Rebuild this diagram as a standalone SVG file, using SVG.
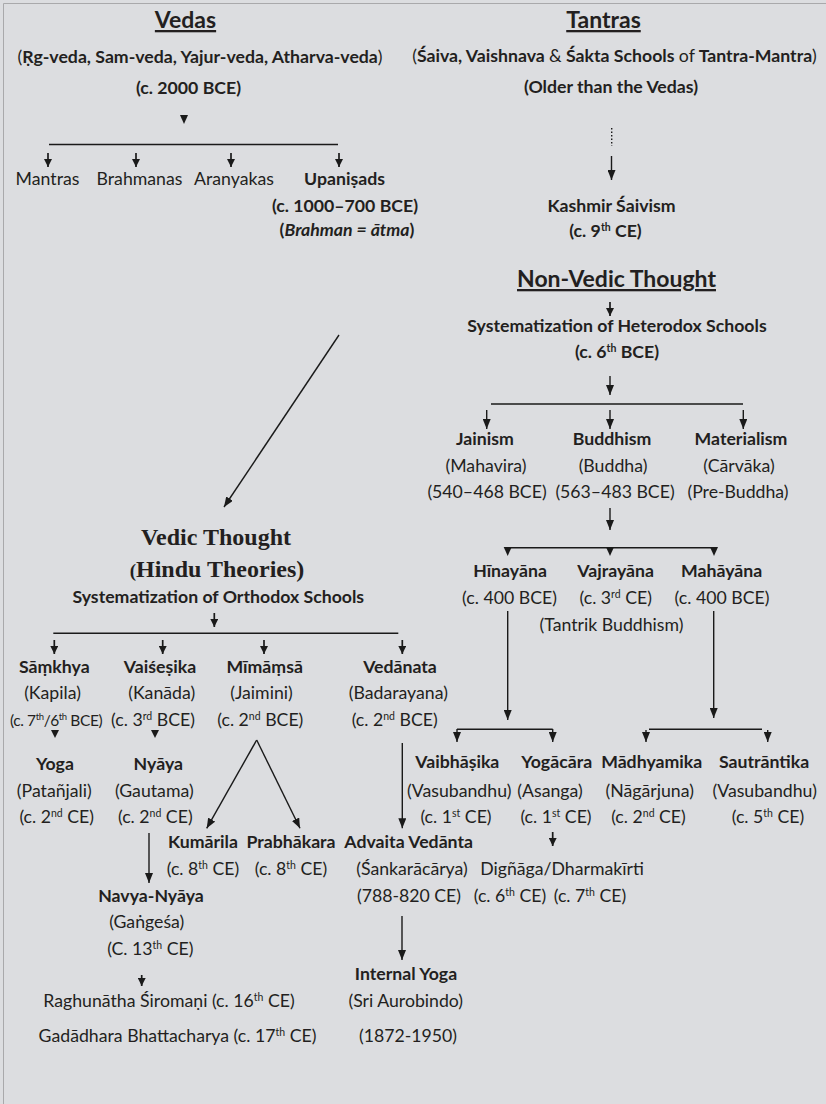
<svg xmlns="http://www.w3.org/2000/svg" width="826" height="1104" viewBox="0 0 826 1104">
<style>
.t{font-family:Lato,"Noto Sans","Liberation Sans",sans-serif;font-size:17.7px;fill:#231f20;text-anchor:middle}
.b{font-weight:bold}
.h{font-size:23px;font-weight:bold;text-decoration:underline}
.s{font-family:"Liberation Serif","Times New Roman",serif;font-size:24px;font-weight:bold;fill:#231f20;text-anchor:middle}
.n{font-weight:normal}
.i{font-style:italic}
.sup{font-size:10.5px}
.c line,.c path{stroke:#1a1a1a;stroke-width:1.4;fill:none}
.c polygon{fill:#1a1a1a}
.la{marker-end:url(#a)}
.sa{marker-end:url(#sa)}
.sa2{stroke-width:1.7 !important}
</style>
<defs>
<marker id="a" viewBox="0 0 10 8" refX="10" refY="4" markerWidth="10" markerHeight="8" markerUnits="userSpaceOnUse" orient="auto"><path d="M0,0 L10,4 L0,8 z" fill="#1a1a1a"/></marker>
<marker id="sa" viewBox="0 0 8 8" refX="8" refY="4" markerWidth="8" markerHeight="8" markerUnits="userSpaceOnUse" orient="auto"><path d="M0,0 L8,4 L0,8 z" fill="#1a1a1a"/></marker>
</defs>
<rect x="0" y="0" width="826" height="1104" fill="#dcdde0"/>
<line x1="3.5" y1="3.5" x2="3.5" y2="1104" stroke="#a9a9ab" stroke-width="1"/>
<line x1="3.5" y1="3.5" x2="826" y2="3.5" stroke="#a9a9ab" stroke-width="1"/>

<g id="vedas">
<text class="t h" x="185.5" y="28">Vedas</text>
<text class="t b" x="200" y="63"><tspan class="n">(</tspan>Ṛg-veda, Sam-veda, Yajur-veda, Atharva-veda<tspan class="n">)</tspan></text>
<text class="t b" x="188.5" y="94">(c. 2000 BCE)</text>
</g>
<g id="mantras"><text class="t" x="47.5" y="185">Mantras</text></g>
<g id="brahmanas"><text class="t" x="139.5" y="185">Brahmanas</text></g>
<g id="aranyakas"><text class="t" x="234" y="185">Aranyakas</text></g>
<g id="upanisads">
<text class="t b" x="344.5" y="185">Upaniṣads</text>
<text class="t b" x="345" y="212">(c. 1000–700 BCE)</text>
<text class="t b" x="347" y="236">(<tspan class="i">Brahman = ātma</tspan>)</text>
</g>

<g id="tantras">
<text class="t h" x="603.5" y="28">Tantras</text>
<text class="t b" x="614.5" y="62"><tspan class="n">(</tspan>Śaiva, Vaishnava <tspan class="n">&amp;</tspan> Śakta Schools <tspan class="n">of</tspan> Tantra-Mantra<tspan class="n">)</tspan></text>
<text class="t b" x="611" y="93">(Older than the Vedas)</text>
</g>
<g id="kashmir">
<text class="t b" x="611.5" y="212">Kashmir Śaivism</text>
<text class="t b" x="605.5" y="237">(c. 9<tspan class="sup" dy="-6">th</tspan><tspan dy="6"> CE)</tspan></text>
</g>
<g id="nonvedic">
<text class="t h" x="616.5" y="287">Non-Vedic Thought</text>
<text class="t b" x="617" y="332">Systematization of Heterodox Schools</text>
<text class="t b" x="617" y="358">(c. 6<tspan class="sup" dy="-6">th</tspan><tspan dy="6"> BCE)</tspan></text>
</g>
<g id="jainism">
<text class="t b" x="485" y="445">Jainism</text>
<text class="t" x="486" y="472">(Mahavira)</text>
<text class="t" x="487" y="498">(540–468 BCE)</text>
</g>
<g id="buddhism">
<text class="t b" x="612" y="445">Buddhism</text>
<text class="t" x="613" y="472">(Buddha)</text>
<text class="t" x="615" y="498">(563–483 BCE)</text>
</g>
<g id="materialism">
<text class="t b" x="741" y="445">Materialism</text>
<text class="t" x="739" y="472">(Cārvāka)</text>
<text class="t" x="738" y="498">(Pre-Buddha)</text>
</g>
<g id="hinayana">
<text class="t b" x="510" y="577">Hīnayāna</text>
<text class="t" x="509.5" y="604">(c. 400 BCE)</text>
</g>
<g id="vajrayana">
<text class="t b" x="615.7" y="577">Vajrayāna</text>
<text class="t" x="615.7" y="604">(c. 3<tspan class="sup" dy="-6">rd</tspan><tspan dy="6"> CE)</tspan></text>
<text class="t" x="611.5" y="631">(Tantrik Buddhism)</text>
</g>
<g id="mahayana">
<text class="t b" x="721.7" y="577">Mahāyāna</text>
<text class="t" x="722" y="604">(c. 400 BCE)</text>
</g>
<g id="vaibhasika">
<text class="t b" x="457.3" y="768">Vaibhāṣika</text>
<text class="t" x="459.3" y="797">(Vasubandhu)</text>
<text class="t" x="456" y="823">(c. 1<tspan class="sup" dy="-6">st</tspan><tspan dy="6"> CE)</tspan></text>
</g>
<g id="yogacara">
<text class="t b" x="556.7" y="768">Yogācāra</text>
<text class="t" x="550" y="797">(Asanga)</text>
<text class="t" x="556" y="823">(c. 1<tspan class="sup" dy="-6">st</tspan><tspan dy="6"> CE)</tspan></text>
</g>
<g id="madhyamika">
<text class="t b" x="651.7" y="768">Mādhyamika</text>
<text class="t" x="649.7" y="797">(Nāgārjuna)</text>
<text class="t" x="648.5" y="823">(c. 2<tspan class="sup" dy="-6">nd</tspan><tspan dy="6"> CE)</tspan></text>
</g>
<g id="sautrantika">
<text class="t b" x="764" y="768">Sautrāntika</text>
<text class="t" x="764.7" y="797">(Vasubandhu)</text>
<text class="t" x="768" y="823">(c. 5<tspan class="sup" dy="-6">th</tspan><tspan dy="6"> CE)</tspan></text>
</g>
<g id="dignaga">
<text class="t" x="562" y="875">Digñāga/Dharmakīrti</text>
<text class="t" x="510" y="902">(c. 6<tspan class="sup" dy="-6">th</tspan><tspan dy="6"> CE)</tspan></text>
<text class="t" x="590" y="902">(c. 7<tspan class="sup" dy="-6">th</tspan><tspan dy="6"> CE)</tspan></text>
</g>

<g id="vedic">
<text class="s" x="216" y="545">Vedic Thought</text>
<text class="s" x="217" y="577"><tspan font-size="19">(</tspan>Hindu Theories)</text>
<text class="t b" x="218.3" y="603">Systematization of Orthodox Schools</text>
</g>
<g id="samkhya">
<text class="t b" x="54.3" y="673">Sāṃkhya</text>
<text class="t" x="52.5" y="699">(Kapila)</text>
<text class="t" x="10" y="726" style="text-anchor:start;font-size:15.5px;letter-spacing:-0.4px">(c. 7<tspan class="sup" dy="-6" style="font-size:9.5px">th</tspan><tspan dy="6">/6</tspan><tspan class="sup" dy="-6" style="font-size:9.5px">th</tspan><tspan dy="6"> BCE)</tspan></text>
</g>
<g id="vaisesika">
<text class="t b" x="160" y="673">Vaiśeṣika</text>
<text class="t" x="161.7" y="699">(Kanāda)</text>
<text class="t" x="153" y="726">(c. 3<tspan class="sup" dy="-6">rd</tspan><tspan dy="6"> BCE)</tspan></text>
</g>
<g id="mimamsa">
<text class="t b" x="264.7" y="673">Mīmāṃsā</text>
<text class="t" x="261.5" y="699">(Jaimini)</text>
<text class="t" x="260.3" y="726">(c. 2<tspan class="sup" dy="-6">nd</tspan><tspan dy="6"> BCE)</tspan></text>
</g>
<g id="vedanata">
<text class="t b" x="400" y="673">Vedānata</text>
<text class="t" x="398.3" y="699">(Badarayana)</text>
<text class="t" x="394.7" y="726">(c. 2<tspan class="sup" dy="-6">nd</tspan><tspan dy="6"> BCE)</tspan></text>
</g>
<g id="yoga">
<text class="t b" x="55" y="770">Yoga</text>
<text class="t" x="54.3" y="797">(Patañjali)</text>
<text class="t" x="56.7" y="823">(c. 2<tspan class="sup" dy="-6">nd</tspan><tspan dy="6"> CE)</tspan></text>
</g>
<g id="nyaya">
<text class="t b" x="158.3" y="770">Nyāya</text>
<text class="t" x="154.3" y="797">(Gautama)</text>
<text class="t" x="155.3" y="823">(c. 2<tspan class="sup" dy="-6">nd</tspan><tspan dy="6"> CE)</tspan></text>
</g>
<g id="kumarila">
<text class="t b" x="203" y="848">Kumārila</text>
<text class="t" x="203" y="875">(c. 8<tspan class="sup" dy="-6">th</tspan><tspan dy="6"> CE)</tspan></text>
</g>
<g id="prabhakara">
<text class="t b" x="291" y="848">Prabhākara</text>
<text class="t" x="291" y="875">(c. 8<tspan class="sup" dy="-6">th</tspan><tspan dy="6"> CE)</tspan></text>
</g>
<g id="advaita">
<text class="t b" x="408.7" y="848">Advaita Vedānta</text>
<text class="t" x="412" y="875">(Śankarācārya)</text>
<text class="t" x="409" y="902">(788-820 CE)</text>
</g>
<g id="navya">
<text class="t b" x="151" y="902">Navya-Nyāya</text>
<text class="t" x="146.7" y="928">(Gaṅgeśa)</text>
<text class="t" x="150.3" y="955">(C. 13<tspan class="sup" dy="-6">th</tspan><tspan dy="6"> CE)</tspan></text>
</g>
<g id="raghunatha">
<text class="t" x="169" y="1007">Raghunātha Śiromaṇi (c. 16<tspan class="sup" dy="-6">th</tspan><tspan dy="6"> CE)</tspan></text>
</g>
<g id="gadadhara">
<text class="t" x="177.5" y="1042">Gadādhara Bhattacharya (c. 17<tspan class="sup" dy="-6">th</tspan><tspan dy="6"> CE)</tspan></text>
</g>
<g id="internal">
<text class="t b" x="406" y="980">Internal Yoga</text>
<text class="t" x="405.8" y="1007">(Sri Aurobindo)</text>
<text class="t" x="408" y="1042">(1872-1950)</text>
</g>

<g id="connectors" class="c">
<polygon points="180,115 188,115 184,124"/>
<line x1="49" y1="144.5" x2="338" y2="144.5"/>
<line class="sa sa2" x1="48" y1="153" x2="48" y2="167"/>
<line class="sa sa2" x1="136" y1="153" x2="136" y2="167"/>
<line class="sa sa2" x1="231" y1="153" x2="231" y2="167"/>
<line class="sa sa2" x1="339" y1="153" x2="339" y2="167"/>
<line x1="339" y1="335" x2="224" y2="507" class="la"/>

<line x1="611.7" y1="128" x2="611.7" y2="146" stroke-dasharray="1.5 2"/>
<line class="la" x1="611.5" y1="156" x2="611.5" y2="180"/>
<line class="sa sa2" x1="610" y1="302" x2="610" y2="316"/>
<line class="la" x1="610" y1="376" x2="610" y2="395"/>
<line x1="491" y1="404" x2="743" y2="404"/>
<line class="la" x1="486.7" y1="410" x2="486.7" y2="429"/>
<line class="la" x1="610" y1="410" x2="610" y2="429"/>
<line class="la" x1="743.3" y1="410" x2="743.3" y2="429"/>
<line class="la" x1="610" y1="508" x2="610" y2="530"/>
<line x1="507.7" y1="547.7" x2="714" y2="547.7"/>
<polygon points="503.7,547 511.7,547 507.7,556"/>
<polygon points="606,547 614,547 610,556"/>
<polygon points="710,547 718,547 714,556"/>
<line class="la" x1="507.7" y1="611" x2="507.7" y2="720"/>
<line class="la" x1="713.7" y1="611" x2="713.7" y2="718"/>
<line x1="457" y1="729.3" x2="552.7" y2="729.3"/>
<line class="la" x1="457" y1="729" x2="457" y2="742"/>
<line class="la" x1="552.7" y1="729" x2="552.7" y2="742"/>
<line x1="649" y1="729.3" x2="762" y2="729.3"/>
<line class="la" x1="646" y1="730" x2="646" y2="742"/>
<line class="la" x1="767.7" y1="730" x2="767.7" y2="742"/>
<line class="sa sa2" x1="552.7" y1="832" x2="552.7" y2="846"/>

<line class="sa sa2" x1="214.3" y1="613" x2="214.3" y2="627"/>
<line x1="53.3" y1="633.3" x2="398.3" y2="633.3"/>
<line class="sa sa2" x1="54.3" y1="640" x2="54.3" y2="654"/>
<line class="sa sa2" x1="162.7" y1="640" x2="162.7" y2="654"/>
<line class="sa sa2" x1="264" y1="640" x2="264" y2="654"/>
<line class="sa sa2" x1="402.3" y1="640" x2="402.3" y2="654"/>
<polygon points="51,730 59,730 55,738"/>
<polygon points="151,730 159,730 155,738"/>
<line class="la" x1="256.7" y1="740" x2="206.7" y2="828.3"/>
<line class="la" x1="256.7" y1="740" x2="300" y2="828.3"/>
<line class="la" x1="402.3" y1="743" x2="402.3" y2="828.3"/>
<line class="la" x1="149" y1="833" x2="149" y2="883"/>
<line class="la" x1="402" y1="916" x2="402" y2="960"/>
<line class="sa sa2" x1="141.7" y1="975" x2="141.7" y2="986"/>
</g>
</svg>
